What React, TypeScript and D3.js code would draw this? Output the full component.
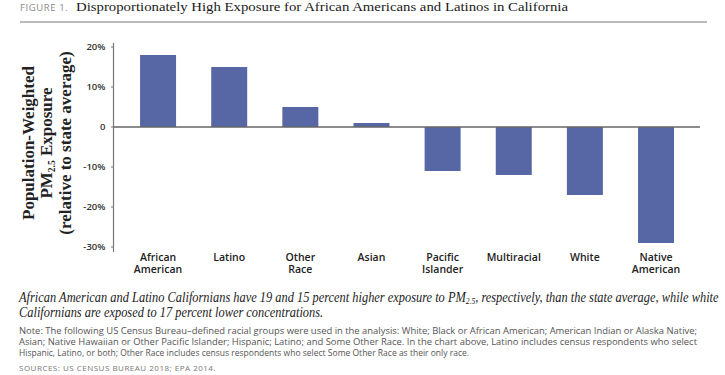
import React from "react";
import * as d3 from "d3";

const categories = [
  ["African", "American"],
  ["Latino"],
  ["Other", "Race"],
  ["Asian"],
  ["Pacific", "Islander"],
  ["Multiracial"],
  ["White"],
  ["Native", "American"],
];
const values = [18, 15, 5, 1, -11, -12, -17, -29];
const yTicks = [20, 10, 0, -10, -20, -30];

const titleLabel = "FIGURE 1.";
const titleText = "Disproportionately High Exposure for African Americans and Latinos in California";
const captionLines = [
  "African American and Latino Californians have 19 and 15 percent higher exposure to PM",
  "Californians are exposed to 17 percent lower concentrations.",
];
const noteLines = [
  "Note: The following US Census Bureau–defined racial groups were used in the analysis: White; Black or African American; American Indian or Alaska Native;",
  "Asian; Native Hawaiian or Other Pacific Islander; Hispanic; Latino; and Some Other Race. In the chart above, Latino includes census respondents who select",
  "Hispanic, Latino, or both; Other Race includes census respondents who select Some Other Race as their only race.",
];
const sourcesText = "SOURCES: US CENSUS BUREAU 2018; EPA 2014.";

export default function App() {
  const W = 725, H = 375;
  const y = d3.scaleLinear().domain([-30, 20]).range([247, 47]);
  const keys = categories.map((c) => c.join(" "));
  const x = d3.scaleBand().domain(keys).range([122.5, 691.6]).paddingInner(0.494).paddingOuter(0.247);
  const axisX = 113.5;
  const sans = "'Open Sans', sans-serif";
  const serif = "'Liberation Serif', serif";
  const fmt = (v: number) => (v === 0 ? "0" : `${v}%`);
  const noteLens = [678, 678, 450];
  return (
    <svg width={W} height={H} style={{ position: "absolute", left: 0, top: 0, background: "#fff" }}>
      {/* Title */}
      <text x={20} y={10.5} fontFamily={sans} fontSize={9.5} fill="#8a8a8a" letterSpacing={0.6}>{titleLabel}</text>
      <text x={76} y={11} fontFamily={serif} fontSize={13.5} fill="#1a1a1a" textLength={492} lengthAdjust="spacingAndGlyphs">{titleText}</text>
      <line x1={20} x2={707} y1={22} y2={22} stroke="#777" strokeWidth={1} />

      {/* Y axis title */}
      <g transform="translate(0,143) rotate(-90)" fontFamily={serif} fontWeight="bold" fontSize={17} fill="#222" textAnchor="middle">
        <text x={0} y={34}>Population-Weighted</text>
        <text x={0} y={52}>
          PM<tspan fontSize={9.5} dy={3}>2.5</tspan><tspan dy={-3}> Exposure</tspan>
        </text>
        <text x={0} y={71}>(relative to state average)</text>
      </g>

      {/* Y ticks */}
      {yTicks.map((t) => (
        <g key={t}>
          <line x1={axisX - 2.5} x2={axisX} y1={y(t)} y2={y(t)} stroke="#777" strokeWidth={1} />
          <text x={105.5} y={y(t)} dy="0.35em" textAnchor="end" fontFamily={sans} fontWeight={600} fontSize={9.5} fill="#333">{fmt(t)}</text>
        </g>
      ))}

      {/* Bars */}
      {values.map((v, i) => (
        <rect key={keys[i]} x={x(keys[i])} width={x.bandwidth()} y={y(Math.max(0, v))} height={Math.abs(y(v) - y(0))} fill="#5767a6" />
      ))}

      {/* Axes */}
      <line x1={axisX} x2={axisX} y1={43} y2={252} stroke="#777" strokeWidth={1.2} />
      <line x1={axisX} x2={700} y1={y(0)} y2={y(0)} stroke="#666" strokeWidth={1.5} />

      {/* Category labels */}
      {categories.map((c, i) => (
        <text key={keys[i]} x={(x(keys[i]) as number) + x.bandwidth() / 2} textAnchor="middle" fontFamily={sans} fontWeight={600} fontSize={10.5} fill="#222">
          {c.map((l, j) => (
            <tspan key={j} x={(x(keys[i]) as number) + x.bandwidth() / 2} y={260.5 + j * 12.7}>{l}</tspan>
          ))}
        </text>
      ))}

      {/* Caption */}
      <g transform="translate(19,0) scale(0.886,1)" fontFamily={serif} fontStyle="italic" fontSize={14} fill="#222">
        <text x={0} y={302}>
          {captionLines[0]}<tspan fontSize={8.5} dy={2.5}>2.5</tspan><tspan dy={-2.5}>, respectively, than the state average, while white</tspan>
        </text>
        <text x={0} y={317}>{captionLines[1]}</text>
      </g>

      {/* Notes */}
      {noteLines.map((l, i) => (
        <text key={i} x={19} y={334 + i * 10.8} fontFamily={sans} fontSize={8.5} fill="#555" textLength={noteLens[i]} lengthAdjust="spacingAndGlyphs">{l}</text>
      ))}
      <text x={19} y={370.5} fontFamily={sans} fontSize={8} fill="#777" letterSpacing={0.5}>{sourcesText}</text>
    </svg>
  );
}
